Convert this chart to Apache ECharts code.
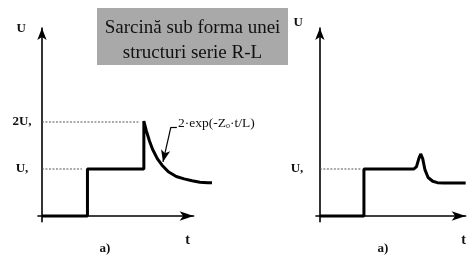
<!DOCTYPE html>
<html>
<head>
<meta charset="utf-8">
<script src="https://cdn.jsdelivr.net/npm/echarts@6/dist/echarts.min.js"></script>
<style>html,body{margin:0;padding:0;background:#fff}#c{width:469px;height:257px}</style>
</head>
<body>
<div id="c"></div>
<script>
// ---- data (t in arbitrary time units, U in units of U,) ----
const leftT  = [0, 2.88, 2.88, 6.45, 6.45, 6.6, 6.8, 7.0, 7.3, 7.6, 8.0, 8.5, 9.0, 9.5, 10.0, 10.5, 10.76];
const leftU  = [0, 0, 1, 1, 2.02, 1.82, 1.60, 1.42, 1.22, 1.08, 0.94, 0.84, 0.79, 0.75, 0.72, 0.71, 0.71];
const rightT = [0, 2.85, 2.85, 6.08, 6.25, 6.4, 6.52, 6.65, 6.8, 7.0, 7.3, 7.6, 8.0, 9.43];
const rightU = [0, 0, 1, 1, 1.05, 1.22, 1.32, 1.22, 0.98, 0.82, 0.74, 0.71, 0.70, 0.70];
const leftDashU_T  = [0, 2.53];   // dashed guide at U,
const leftDash2U_T = [0, 6.14];   // dashed guide at 2U,
const rightDashU_T = [0, 2.66];
const yTickValues = [1, 2];
const yTickLabels = ['U,', '2U,'];
const arrowLeader = [[8.54, 1.89], [8.16, 1.89], [7.66, 1.15]];
const titleLines = ['Sarcină sub forma unei', 'structuri serie R-L'];
const panelLabel = 'a)';

const zip = (xs, ys) => xs.map((x, i) => [x, Array.isArray(ys) ? ys[i] : ys]);
const FONT = 'Liberation Serif';
const lab = (v) => { const i = yTickValues.indexOf(v); return i >= 0 ? yTickLabels[i] : ''; };
const PXT = 15.8;   // px per time unit (layout)
const PXU = 47;     // px per U unit (layout)
const X0 = -0.25, Y0 = -0.12, YMAX = 4.0;

function axes(gi, xMax, labMargin, uPad, uGap, tGap, showLabels) {
  const x = {
    type: 'value', gridIndex: gi, min: X0, max: xMax,
    name: 't', nameLocation: 'end', nameGap: tGap,
    nameTextStyle: { fontFamily: FONT, fontSize: 14, fontWeight: 'bold', color: '#111',
      align: 'center', verticalAlign: 'top', padding: [17, 0, 0, 0] },
    axisLine: { onZero: true, symbol: ['none', 'arrow'], symbolSize: [7, 14],
      lineStyle: { color: '#000', width: 1.6 } },
    axisTick: { show: false }, axisLabel: { show: false }, splitLine: { show: false }
  };
  const y = {
    type: 'value', gridIndex: gi, min: Y0, max: YMAX,
    name: 'U', nameLocation: 'end', nameGap: uGap,
    nameTextStyle: { fontFamily: FONT, fontSize: 13, fontWeight: 'bold', color: '#111',
      align: 'right', verticalAlign: 'middle', padding: [0, uPad, 0, 0] },
    axisLine: { onZero: true, symbol: ['none', 'arrow'], symbolSize: [7, 12],
      lineStyle: { color: '#000', width: 1.6 } },
    axisTick: { show: false }, splitLine: { show: false },
    axisLabel: { show: true, customValues: showLabels, formatter: lab, align: 'center',
      margin: labMargin, fontFamily: FONT, fontSize: 13, fontWeight: 'bold', color: '#111' }
  };
  return [x, y];
}

const LEFT_XMAX = 9.6, RIGHT_XMAX = 9.43, LEFT_CURVE_XMAX = 10.8;
const [x0, y0] = axes(0, LEFT_XMAX, 16, 16, -1, -6, [1, 2]);
const [x1, y1] = axes(1, RIGHT_XMAX, 19, 17, 5, -2, [1]);
// hidden overlay axes for left curve (same scale, wider extent so curve runs past arrow)
const x2 = { type: 'value', gridIndex: 2, min: X0, max: LEFT_CURVE_XMAX, show: false };
const y2 = { type: 'value', gridIndex: 2, min: Y0, max: YMAX, show: false };

const dash = { color: '#555', width: 1.1, type: [2, 1.5] };
const curve = { color: '#000', width: 3 };
const H = (YMAX - Y0) * PXU;

const chart = echarts.init(document.getElementById('c'), null, { renderer: 'canvas' });
chart.setOption({
  animation: false,
  grid: [
    { left: 38, top: 28, width: (LEFT_XMAX - X0) * PXT, height: H },
    { left: 316, top: 28, width: (RIGHT_XMAX - X0) * PXT, height: H },
    { left: 38, top: 28, width: (LEFT_CURVE_XMAX - X0) * PXT, height: H }
  ],
  xAxis: [x0, x1, x2],
  yAxis: [y0, y1, y2],
  series: [
    { type: 'line', xAxisIndex: 0, yAxisIndex: 0, data: zip(leftDashU_T, 1), symbol: 'none', lineStyle: dash },
    { type: 'line', xAxisIndex: 0, yAxisIndex: 0, data: zip(leftDash2U_T, 2), symbol: 'none', lineStyle: dash },
    { type: 'line', xAxisIndex: 1, yAxisIndex: 1, data: zip(rightDashU_T, 1), symbol: 'none', lineStyle: dash },
    { type: 'line', xAxisIndex: 2, yAxisIndex: 2, data: zip(leftT, leftU), symbol: 'none',
      clip: false, lineStyle: curve,
      markLine: {
        silent: true, animation: false, label: { show: false },
        lineStyle: { color: '#000', width: 1.2, type: 'solid' },
        data: [
          [{ coord: arrowLeader[0], symbol: 'none' }, { coord: arrowLeader[1], symbol: 'none' }],
          [{ coord: arrowLeader[1], symbol: 'none' }, { coord: arrowLeader[2], symbol: 'arrow', symbolSize: [7, 12] }]
        ]
      }
    },
    { type: 'line', xAxisIndex: 1, yAxisIndex: 1, data: zip(rightT, rightU), symbol: 'none',
      clip: false, lineStyle: curve }
  ],
  graphic: [
    { type: 'rect', left: 97, top: 8, shape: { width: 191, height: 57 }, style: { fill: '#a9a9a9' } },
    { type: 'text', x: 192.5, y: 41, style: { text: titleLines.join('\n'), font: '19px "Liberation Serif"',
      fill: '#111', textAlign: 'center', textVerticalAlign: 'middle', lineHeight: 25 } },
    { type: 'text', x: 178, y: 123, style: {
      text: '{a|2·exp(-Z}{s|o}{a|·t/L)}', textVerticalAlign: 'middle',
      rich: { a: { fontFamily: FONT, fontSize: 13.5, fill: '#111', lineHeight: 14 },
              s: { fontFamily: FONT, fontSize: 8, fill: '#111', verticalAlign: 'bottom', lineHeight: 14 } } } },
    { type: 'text', x: 105, y: 249, style: { text: panelLabel, font: 'bold 13px "Liberation Serif"', fill: '#111',
      textAlign: 'center', textVerticalAlign: 'middle' } },
    { type: 'text', x: 383, y: 249, style: { text: panelLabel, font: 'bold 13px "Liberation Serif"', fill: '#111',
      textAlign: 'center', textVerticalAlign: 'middle' } }
  ]
});
</script>
</body>
</html>
